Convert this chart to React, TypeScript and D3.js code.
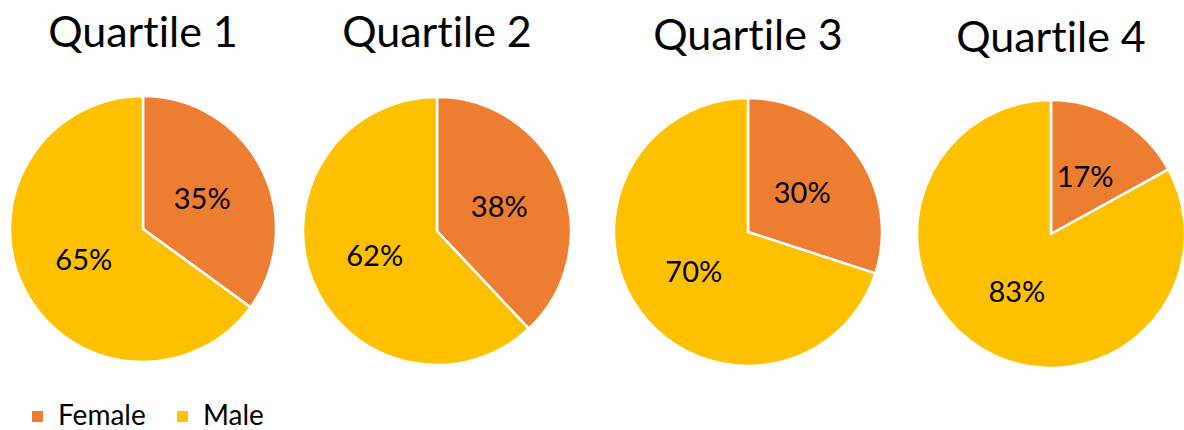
import * as React from "react";
import * as d3 from "d3";

// chart data
const quartiles = ["Quartile 1", "Quartile 2", "Quartile 3", "Quartile 4"];
const categories = ["Female", "Male"];
const female = [35, 38, 30, 17];
const male = [65, 62, 70, 83];

const colors = ["#ED7D31", "#FFC000"];
const fontFamily = "Lato, 'Open Sans', sans-serif";
const noLig: React.CSSProperties = { fontVariantLigatures: "none", fontFeatureSettings: "'liga' 0" };

const WIDTH = 1184;
const HEIGHT = 430;

const pieLayout = [
  { cx: 143, cy: 229, r: 133, titleY: 47 },
  { cx: 437, cy: 231, r: 134, titleY: 47 },
  { cx: 748, cy: 232, r: 134, titleY: 50 },
  { cx: 1051, cy: 234, r: 134, titleY: 52 },
];

const color = d3.scaleOrdinal<string, string>().domain(categories).range(colors);

const pie = d3
  .pie<{ name: string; value: number }>()
  .sort(null)
  .value((d) => d.value);

export default function App() {
  const legendX = d3.scalePoint<string>().domain(categories).range([32, 177]);

  return (
    <svg
      width={WIDTH}
      height={HEIGHT}
      style={{ position: "absolute", left: 0, top: 0, background: "#fff" }}
    >
      {quartiles.map((q, i) => {
        const { cx, cy, r, titleY } = pieLayout[i];
        const data = [
          { name: categories[0], value: female[i] },
          { name: categories[1], value: male[i] },
        ];
        const arcs = pie(data);
        const arc = d3.arc<d3.PieArcDatum<{ name: string; value: number }>>()
          .innerRadius(0)
          .outerRadius(r);
        return (
          <g key={q}>
            <text
              x={cx}
              y={titleY}
              textAnchor="middle"
              fontFamily={fontFamily}
              fontSize={43}
              fill="#000"
              style={noLig}
            >
              {q}
            </text>
            <g transform={`translate(${cx},${cy})`}>
              {arcs.map((a) => (
                <path
                  key={a.data.name}
                  d={arc(a) || ""}
                  fill={color(a.data.name)}
                  stroke="#fff"
                  strokeWidth={2.5}
                  strokeLinejoin="round"
                />
              ))}
              {arcs.map((a) => {
                const [lx, ly] = arc.centroid(a);
                return (
                  <text
                    key={a.data.name + "-label"}
                    x={lx}
                    y={ly}
                    dy="0.36em"
                    textAnchor="middle"
                    fontFamily={fontFamily}
                    fontSize={29}
                    fill="#000"
                  >
                    {a.data.value}%
                  </text>
                );
              })}
            </g>
          </g>
        );
      })}
      <g>
        {categories.map((c) => (
          <g key={c} transform={`translate(${legendX(c)},0)`}>
            <rect x={0} y={411} width={11} height={11} fill={color(c)} />
            <text
              x={26}
              y={425}
              fontFamily={fontFamily}
              fontSize={28}
              fill="#000"
            >
              {c}
            </text>
          </g>
        ))}
      </g>
    </svg>
  );
}
